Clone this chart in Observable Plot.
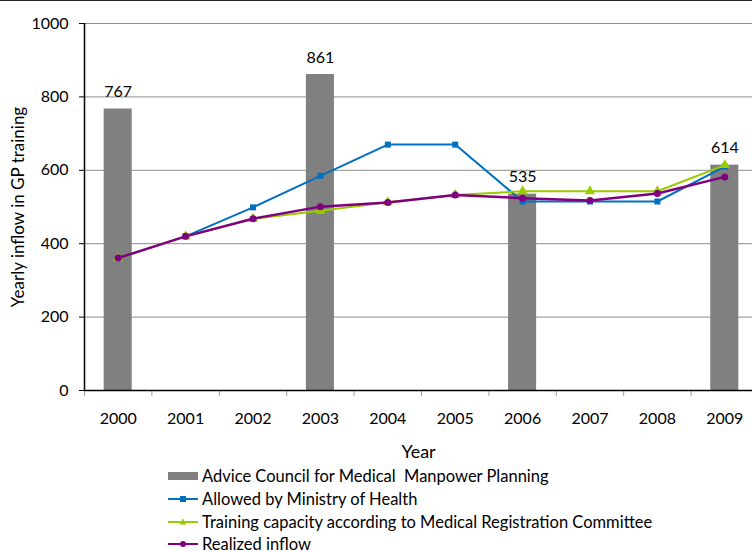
<!DOCTYPE html>
<html><head><meta charset="utf-8">
<script src="https://cdn.jsdelivr.net/npm/d3@7"></script>
<script src="https://cdn.jsdelivr.net/npm/@observablehq/plot@0.6"></script>
<style>
body{margin:0;background:#fff;overflow:hidden;font-family:Lato,"Open Sans",sans-serif}
#wrap{width:752px;height:551px;position:relative;overflow:hidden;border-top:1px solid #222;box-sizing:border-box}
#chart svg{display:block;overflow:hidden}
.legend{position:absolute;left:168px;top:464px;font-size:16.5px;color:#000}
.row{height:22.7px;display:flex;align-items:center;white-space:pre}
.row svg{width:31px;height:14px;margin-right:3px;flex:none}
</style></head>
<body><div id="wrap"><div id="chart"></div><div class="legend" id="legend"></div></div>
<script>
const years = [2000, 2001, 2002, 2003, 2004, 2005, 2006, 2007, 2008, 2009];
const adviceYears = [2000, 2003, 2006, 2009];
const adviceValues = [767, 861, 535, 614];
const ministry = [null, 420, 499, 585, 670, 670, 515, 515, 515, 610];
const capacity = [360, 420, 468, 490, 513, 533, 543, 543, 543, 614];
const realized = [361, 420, 468, 501, 512, 533, 524, 518, 537, 582];
const yTicks = [0, 200, 400, 600, 800, 1000];
const seriesNames = ["Advice Council for Medical  Manpower Planning", "Allowed by Ministry of Health", "Training capacity according to Medical Registration Committee", "Realized inflow"];
const yTitle = "Yearly inflow in GP training";
const xTitle = "Year";

const colors = {bar: "#808080", blue: "#0070C0", green: "#99CC00", purple: "#800080"};
const halfBar = 0.208;
const boundaries = years.map(y => y - 0.5).concat([years[years.length - 1] + 0.5]);

const plot = Plot.plot({
  width: 752, height: 464,
  marginLeft: 84, marginRight: 0, marginTop: 22, marginBottom: 75,
  style: {fontFamily: "Lato, 'Open Sans', sans-serif", fontSize: "16px", color: "#000", background: "#fff"},
  x: {domain: [1999.5, 2009.5], range: [84, 758], axis: null},
  y: {domain: [0, 1000], range: [389, 22], ticks: yTicks, tickFormat: "d", tickSize: 5, tickPadding: 11, label: null},
  marks: [
    Plot.ruleY(yTicks.slice(1), {stroke: "#8c8c8c", strokeWidth: 1}),
    Plot.rectY(adviceValues, {x1: adviceYears.map(y => y - halfBar), x2: adviceYears.map(y => y + halfBar), y1: 0, y2: adviceValues, fill: colors.bar}),
    Plot.text(adviceValues, {x: adviceYears, y: adviceValues, text: d => String(d), dy: -17, fontSize: 16}),
    Plot.ruleX(boundaries, {x: d => d, y1: 0, y2: 0, insetBottom: -6, stroke: "#a0a0a0"}),
    Plot.ruleY([0], {stroke: "#000", strokeWidth: 1.5}),
    Plot.ruleX([1999.5], {stroke: "#000", strokeWidth: 1.5}),
    Plot.line(ministry, {x: years, y: ministry, stroke: colors.blue, strokeWidth: 2}),
    Plot.dot(ministry, {x: years, y: ministry, symbol: "square", fill: colors.blue, r: 3.4}),
    Plot.line(capacity, {x: years, y: capacity, stroke: colors.green, strokeWidth: 2}),
    Plot.dot(capacity, {x: years, y: capacity, symbol: "triangle", fill: colors.green, r: 3.8}),
    Plot.line(realized, {x: years, y: realized, stroke: colors.purple, strokeWidth: 2.5}),
    Plot.dot(realized, {x: years, y: realized, fill: colors.purple, r: 3.5}),
    Plot.text(years, {x: d => d, frameAnchor: "bottom", lineAnchor: "middle", dy: 28, text: d => String(d), fontSize: 16}),
    Plot.text([xTitle], {frameAnchor: "bottom", lineAnchor: "middle", dy: 62, fontSize: 18}),
    Plot.text([yTitle], {frameAnchor: "left", textAnchor: "middle", lineAnchor: "middle", rotate: -90, dx: -66, fontSize: 17})
  ]
});
document.getElementById("chart").append(plot);

const legend = document.getElementById("legend");
const swatches = [
  `<rect x="0" y="3" width="30" height="8" fill="${colors.bar}"/>`,
  `<line x1="0" x2="30" y1="7" y2="7" stroke="${colors.blue}" stroke-width="2"/><rect x="12" y="4" width="6" height="6" fill="${colors.blue}"/>`,
  `<line x1="0" x2="30" y1="7" y2="7" stroke="${colors.green}" stroke-width="2"/><path d="M15,3.5L18.5,9.5L11.5,9.5Z" fill="${colors.green}"/>`,
  `<line x1="0" x2="30" y1="7" y2="7" stroke="${colors.purple}" stroke-width="2"/><circle cx="15" cy="7" r="3" fill="${colors.purple}"/>`
];
seriesNames.forEach((name, i) => {
  const row = document.createElement("div");
  row.className = "row";
  row.innerHTML = `<svg viewBox="0 0 31 14">${swatches[i]}</svg><span></span>`;
  row.querySelector("span").textContent = name;
  legend.append(row);
});
</script></body></html>
